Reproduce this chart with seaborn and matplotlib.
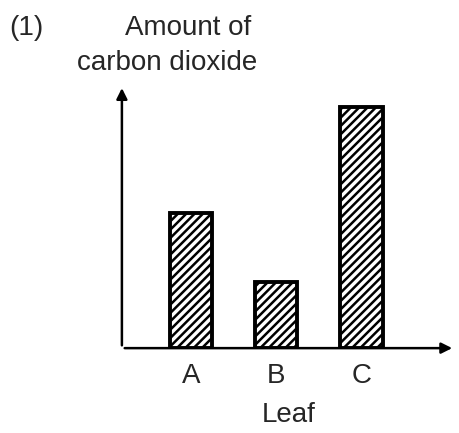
import seaborn as sns
import matplotlib.pyplot as plt

# Data (relative amounts)
leaves = ['A', 'B', 'C']
co2_amount = [5.6, 2.75, 10.0]

sns.set_style('white')
plt.rcParams['font.family'] = ['Liberation Sans', 'DejaVu Sans']
plt.rcParams['hatch.linewidth'] = 1.8

fig = plt.figure(figsize=(4.6, 4.33), dpi=100)
ax = fig.add_axes([0.265, 0.196, 0.724, 0.607])

sns.barplot(x=leaves, y=co2_amount, color='white', edgecolor='black',
            linewidth=2.8, width=0.5, hatch='////', ax=ax)

ax.set_xlim(-0.81, 3.1)
ax.set_ylim(0, 10.9)

# Axes drawn as arrows
for s in ax.spines.values():
    s.set_visible(False)
ax.annotate('', xy=(1, 0), xytext=(0, 0), xycoords='axes fraction',
            arrowprops=dict(arrowstyle='-|>', color='black', lw=1.8, mutation_scale=16))
ax.annotate('', xy=(0, 1), xytext=(0, 0), xycoords='axes fraction',
            arrowprops=dict(arrowstyle='-|>', color='black', lw=1.8, mutation_scale=16))

ax.set_yticks([])
ax.tick_params(axis='x', length=0, pad=11, labelsize=20)
ax.set_xlabel('Leaf', fontsize=20, labelpad=9)
ax.set_ylabel('')

# Labels on top
fig.text(0.02, 0.919, '(1)', fontsize=20, va='baseline')
fig.text(0.41, 0.919, 'Amount of', fontsize=20, va='baseline', ha='center')
fig.text(0.363, 0.838, 'carbon dioxide', fontsize=20, va='baseline', ha='center')

fig.savefig('out.png', dpi=100)
